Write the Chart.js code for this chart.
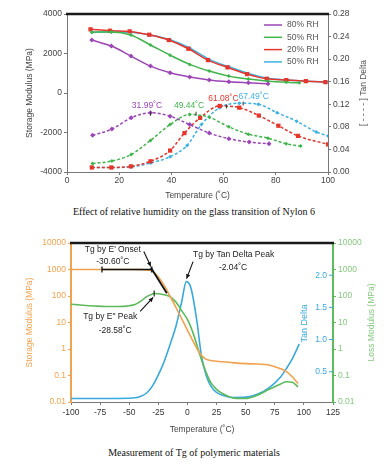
<!DOCTYPE html>
<html><head><meta charset="utf-8">
<script src="https://cdn.jsdelivr.net/npm/chart.js@4/dist/chart.umd.min.js"></script>
<style>
body{margin:0;background:#fff;width:388px;height:468px;position:relative;overflow:hidden}
#c1{position:absolute;left:0;top:0}
#c2{position:absolute;left:0;top:225px}
.cap{position:absolute;left:0;width:388px;text-align:center;font-family:"Liberation Serif",serif;font-size:10px;color:#111;line-height:12px}
</style></head><body>
<canvas id="c1" width="388" height="205"></canvas>
<div class="cap" style="top:206px">Effect of relative humidity on the glass transition of Nylon 6</div>
<canvas id="c2" width="388" height="215"></canvas>
<div class="cap" style="top:447px">Measurement of Tg of polymeric materials</div>
<script>
// ================= TOP CHART DATA =================
const topSeriesNames = ['80% RH', '50% RH', '20% RH', '50% RH'];
const topColors = ['#9b45b6', '#3fb54b', '#e5362c', '#3fb2e4'];
// storage modulus (solid lines, MPa)
const rh80ModT = [9.5, 17, 24.5, 32, 39.5, 47, 54.5, 62, 69.5, 77];
const rh80Mod  = [2680, 2377, 1870, 1362, 1024, 810, 660, 570, 515, 465];
const rh50gModT = [9.5, 17, 24.5, 32, 39.5, 47, 54.5, 62, 69.5, 77, 84, 89];
const rh50gMod  = [3080, 3090, 2935, 2430, 1917, 1448, 1110, 855, 703, 600, 540, 515];
const rh20ModT = [9, 16.5, 24, 31.5, 39, 46.5, 54, 61.5, 69, 76.5, 84, 91.5, 99];
const rh20Mod  = [3224, 3153, 3120, 2950, 2680, 2240, 1667, 1296, 956, 719, 652, 600, 550];
const rh50bModT = [9.5, 17, 24.5, 32, 39.5, 47, 54.5, 62, 69.5, 77, 84.5, 92, 99.5];
const rh50bMod  = [3080, 3090, 3080, 2930, 2700, 2280, 1700, 1330, 990, 750, 660, 600, 550];
// tan delta (dashed lines)
const rh80TanT = [9.8, 17.2, 24.6, 32, 39.5, 47, 54.5, 62, 69.8, 77.4];
const rh80Tan  = [0.065, 0.076, 0.096, 0.105, 0.099, 0.084, 0.069, 0.059, 0.053, 0.050];
const rh50gTanT = [9.8, 17.2, 24.6, 32, 39.5, 47, 54.5, 62, 69.5, 77, 84, 89.5];
const rh50gTan  = [0.015, 0.0195, 0.031, 0.056, 0.084, 0.102, 0.097, 0.080, 0.067, 0.060, 0.050, 0.046];
const rh20TanT = [9.5, 17, 24.5, 32, 39.5, 45, 51, 58.5, 66, 73.5, 81, 88.5, 100];
const rh20Tan  = [0.008, 0.008, 0.010, 0.019, 0.038, 0.069, 0.096, 0.117, 0.114, 0.100, 0.082, 0.064, 0.049];
const rh50bTanT = [9.5, 17, 24.5, 32, 39.5, 46, 51.5, 58.5, 66, 73.3, 80.5, 88, 95.5, 100];
const rh50bTan  = [0.008, 0.008, 0.009, 0.016, 0.027, 0.047, 0.084, 0.114, 0.122, 0.120, 0.105, 0.090, 0.071, 0.064];
// peak labels
const peakTemps = [31.99, 49.44, 61.08, 67.49];
const peakTanVals = [0.105, 0.105, 0.118, 0.123];
const peakLabels = ['31.99˚C', '49.44˚C', '61.08˚C', '67.49˚C'];
// tick labels
const topXTicks = [0, 20, 40, 60, 80, 100];
const topLeftTicks = [-4000, -2000, 0, 2000, 4000];
const topRightTicks = [0, 0.04, 0.08, 0.12, 0.16, 0.20, 0.24, 0.28];

// ================= BOTTOM CHART DATA =================
const storageT = [-100, -75, -50, -40, -35, -30, -25, -20, -15, -10, -5, 0, 5, 10, 15, 20, 30, 40, 50, 60, 70, 80, 85, 90, 95];
const storageMod = [1000, 1000, 1000, 990, 960, 860, 520, 250, 100, 38, 14, 5.2, 1.9, 0.75, 0.43, 0.37, 0.33, 0.3, 0.28, 0.27, 0.25, 0.18, 0.14, 0.09, 0.05];
const lossT = [-100, -90, -80, -70, -60, -50, -45, -40, -35, -30, -28.58, -25, -20, -15, -10, -5, 0, 5, 10, 15, 20, 25, 30, 40, 50, 60, 70, 80, 85, 90, 95];
const lossMod = [49, 45, 42, 40, 40, 43, 48, 64, 95, 120, 125, 122, 112, 95, 60, 28, 13, 3.8, 0.75, 0.17, 0.055, 0.03, 0.021, 0.014, 0.0135, 0.018, 0.03, 0.048, 0.058, 0.056, 0.037];
const tanT = [-100, -75, -50, -45, -40, -35, -30, -25, -20, -15, -10, -5, -1, 3, 8, 12, 16, 20, 25, 30, 40, 50, 60, 70, 80, 85, 90, 96];
const tanDelta = [0.085, 0.085, 0.088, 0.095, 0.12, 0.17, 0.28, 0.45, 0.66, 0.92, 1.2, 1.58, 1.9, 1.8, 1.3, 0.75, 0.45, 0.28, 0.18, 0.135, 0.1, 0.105, 0.15, 0.25, 0.42, 0.55, 0.7, 0.93];
const bottomXTicks = [-100, -75, -50, -25, 0, 25, 50, 75, 100, 125];
const logTicks = [0.01, 0.1, 1, 10, 100, 1000, 10000];
const tanTicks = [0.5, 1.0, 1.5, 2.0];
// annotation anchors (data space)
const onsetT = -30.60, onsetVal = 1000, onsetLineStartT = -73.4;
const tangentEndT = -17.7, tangentEndVal = 128;
const ePeakT = -28.58, ePeakVal = 125;
const tanPeakT = -2.04, tanPeakVal = 1.9;

const C_ORANGE = '#f2a24e', C_GREEN = '#5dbb5b', C_BLUE = '#38a9dc';
const F = '"Liberation Sans", Arial, sans-serif';
const tickFont = {family: F, size: 8.5};

function pts(xs, ys) { return xs.map((x, i) => ({x: x, y: ys[i]})); }

// ---------------- TOP CHART ----------------
const markerStyles = ['rectRot', 'rectRot', 'rect', 'rectRot'];
const markerSizes = [2.5, 2, 3, 2];
const modSets = [[rh80ModT, rh80Mod], [rh50gModT, rh50gMod], [rh20ModT, rh20Mod], [rh50bModT, rh50bMod]];
const tanSets = [[rh80TanT, rh80Tan], [rh50gTanT, rh50gTan], [rh20TanT, rh20Tan], [rh50bTanT, rh50bTan]];
const topDatasets = [];
modSets.forEach((s, i) => topDatasets.push({
  label: topSeriesNames[i], data: pts(s[0], s[1]), yAxisID: 'y',
  borderColor: topColors[i], backgroundColor: topColors[i], borderWidth: 1.5,
  pointStyle: markerStyles[i], pointRadius: markerSizes[i], pointBorderWidth: 0,
  cubicInterpolationMode: 'monotone'
}));
tanSets.forEach((s, i) => topDatasets.push({
  label: topSeriesNames[i] + ' tan', data: pts(s[0], s[1]), yAxisID: 'y2',
  borderColor: topColors[i], backgroundColor: topColors[i], borderWidth: 1.5, borderDash: [3, 2],
  pointStyle: markerStyles[i], pointRadius: markerSizes[i], pointBorderWidth: 0,
  cubicInterpolationMode: 'monotone'
}));

const topPlugin = {
  id: 'topDecor',
  afterDraw(chart) {
    const {ctx, chartArea: a, scales} = chart;
    ctx.save();
    ctx.strokeStyle = '#1a1a1a'; ctx.lineWidth = 2.5;
    ctx.beginPath(); ctx.moveTo(a.left - 1, a.top); ctx.lineTo(a.right + 1, a.top); ctx.stroke();
    ctx.font = '8.5px ' + F; ctx.textBaseline = 'middle'; ctx.textAlign = 'left';
    for (let i = 0; i < 4; i++) {
      const y = a.top + 11 + i * 12.3;
      ctx.strokeStyle = topColors[i]; ctx.lineWidth = 1.5; ctx.setLineDash([]);
      ctx.beginPath(); ctx.moveTo(a.right - 64, y); ctx.lineTo(a.right - 46, y); ctx.stroke();
      ctx.fillStyle = '#555'; ctx.fillText(topSeriesNames[i], a.right - 41, y);
    }
    const dx = [-3.5, -7, -3, 10.5], dy = [-7, -7, -7, -6];
    ctx.textAlign = 'center';
    for (let i = 0; i < 4; i++) {
      const px = scales.x.getPixelForValue(peakTemps[i]);
      const py = scales.y2.getPixelForValue(peakTanVals[i]);
      ctx.fillStyle = topColors[i];
      ctx.fillText(peakLabels[i], px + dx[i], py + dy[i]);
      ctx.strokeStyle = '#333'; ctx.lineWidth = 1;
      ctx.beginPath(); ctx.moveTo(px, py - 1); ctx.lineTo(px, py + 3); ctx.stroke();
    }
    ctx.translate(364, (a.top + a.bottom) / 2); ctx.rotate(-Math.PI / 2);
    ctx.fillStyle = '#555'; ctx.textAlign = 'center';
    ctx.fillText('[ - - - - ] Tan Delta', 0, 0);
    ctx.restore();
  }
};

new Chart(document.getElementById('c1'), {
  type: 'line',
  data: {datasets: topDatasets},
  options: {
    responsive: false, animation: false, events: [],
    layout: {padding: {top: 14, left: 0, right: 0, bottom: 0}},
    plugins: {legend: {display: false}, tooltip: {enabled: false}},
    scales: {
      x: {type: 'linear', min: 0, max: 100,
        afterBuildTicks: s => { s.ticks = topXTicks.map(v => ({value: v})); },
        ticks: {font: tickFont, color: '#444', padding: 1, maxRotation: 0, callback: v => String(v)},
        grid: {drawOnChartArea: false, tickLength: 3, color: '#777'},
        border: {color: '#777'},
        title: {display: true, text: 'Temperature (˚C)', font: {family: F, size: 8.5}, color: '#444', padding: {top: 0, bottom: 4}},
        afterFit: s => { s.height = 33; }
      },
      y: {type: 'linear', position: 'left', min: -4000, max: 4000,
        afterBuildTicks: s => { s.ticks = topLeftTicks.map(v => ({value: v})); },
        ticks: {font: tickFont, color: '#444', padding: 2, callback: v => String(v)},
        grid: {drawOnChartArea: false, tickLength: 3, color: '#777'},
        border: {color: '#777'},
        title: {display: true, text: 'Storage Modulus (MPa)', font: {family: F, size: 8.5}, color: '#444', padding: {top: 25, bottom: 0}},
        afterFit: s => { s.width = 67; }
      },
      y2: {type: 'linear', position: 'right', min: 0, max: 0.28,
        afterBuildTicks: s => { s.ticks = topRightTicks.map(v => ({value: v})); },
        ticks: {font: tickFont, color: '#444', padding: 2, callback: v => v.toFixed(2)},
        grid: {drawOnChartArea: false, tickLength: 3, color: '#777'},
        border: {color: '#777'},
        afterFit: s => { s.width = 60; }
      }
    }
  },
  plugins: [topPlugin]
});

// ---------------- BOTTOM CHART ----------------
function arrow(ctx, x1, y1, x2, y2) {
  ctx.beginPath(); ctx.moveTo(x1, y1); ctx.lineTo(x2, y2); ctx.stroke();
  const ang = Math.atan2(y2 - y1, x2 - x1), L = 5, W = 0.45;
  ctx.beginPath(); ctx.moveTo(x2, y2);
  ctx.lineTo(x2 - L * Math.cos(ang - W), y2 - L * Math.sin(ang - W));
  ctx.lineTo(x2 - L * Math.cos(ang + W), y2 - L * Math.sin(ang + W));
  ctx.closePath(); ctx.fill();
}

const bottomPlugin = {
  id: 'bottomDecor',
  afterDraw(chart) {
    const {ctx, chartArea: a, scales} = chart;
    const X = v => scales.x.getPixelForValue(v);
    ctx.save();
    ctx.strokeStyle = '#1a1a1a'; ctx.lineWidth = 2.5;
    ctx.beginPath(); ctx.moveTo(a.left - 1, a.top); ctx.lineTo(a.right + 1, a.top); ctx.stroke();
    ctx.strokeStyle = C_BLUE; ctx.lineWidth = 1;
    tanTicks.forEach(v => { const y = scales.yTan.getPixelForValue(v);
      ctx.beginPath(); ctx.moveTo(a.right - 4, y); ctx.lineTo(a.right, y); ctx.stroke(); });
    ctx.strokeStyle = '#111'; ctx.fillStyle = '#111'; ctx.lineWidth = 1.3;
    const ox = X(onsetT), oy = scales.y.getPixelForValue(onsetVal);
    const sx = X(onsetLineStartT);
    ctx.beginPath(); ctx.moveTo(sx, oy); ctx.lineTo(ox, oy); ctx.stroke();
    ctx.beginPath(); ctx.moveTo(sx, oy - 3); ctx.lineTo(sx, oy + 3); ctx.moveTo(ox, oy - 3); ctx.lineTo(ox, oy + 3); ctx.stroke();
    ctx.lineWidth = 1.8;
    ctx.beginPath(); ctx.moveTo(ox - 1, oy - 2); ctx.lineTo(X(tangentEndT), scales.y.getPixelForValue(tangentEndVal)); ctx.stroke();
    ctx.lineWidth = 1.1;
    arrow(ctx, ox - 8, oy - 18, ox - 1, oy - 3);
    const ex = X(ePeakT), ey = scales.yLoss.getPixelForValue(ePeakVal);
    ctx.beginPath(); ctx.moveTo(ex, ey - 3); ctx.lineTo(ex, ey + 3); ctx.stroke();
    arrow(ctx, ex - 14, ey + 18, ex - 1, ey + 4);
    const tx = X(tanPeakT), ty = scales.yTan.getPixelForValue(tanPeakVal);
    arrow(ctx, tx + 8, ty - 20, tx + 1.5, ty - 3);
    ctx.font = '8.5px ' + F; ctx.textAlign = 'center'; ctx.textBaseline = 'middle'; ctx.fillStyle = '#222';
    ctx.fillText("Tg by E' Onset", ox - 39, oy - 19.5);
    ctx.fillText('-30.60˚C', ox - 39, oy - 8);
    ctx.fillText('Tg by E" Peak', ex - 44, ey + 23);
    ctx.fillText('-28.58˚C', ex - 39, ey + 37.5);
    ctx.fillText('Tg by Tan Delta Peak', tx + 48.5, ty - 27);
    ctx.fillText('-2.04˚C', tx + 48, ty - 14);
    ctx.save();
    ctx.translate(305, (a.top + a.bottom) / 2 + 1); ctx.rotate(-Math.PI / 2);
    ctx.fillStyle = C_BLUE; ctx.font = '9px ' + F; ctx.fillText('Tan Delta', 0, 0);
    ctx.restore();
    ctx.save();
    ctx.translate(372, (a.top + a.bottom) / 2); ctx.rotate(-Math.PI / 2);
    ctx.fillStyle = '#86c97f'; ctx.font = '8.5px ' + F; ctx.fillText('Loss Modulus (MPa)', 0, 0);
    ctx.restore();
    ctx.restore();
  }
};

new Chart(document.getElementById('c2'), {
  type: 'line',
  data: {datasets: [
    {label: 'Storage Modulus', data: pts(storageT, storageMod), yAxisID: 'y', borderColor: C_ORANGE, borderWidth: 1.6, pointRadius: 0, cubicInterpolationMode: 'monotone'},
    {label: 'Loss Modulus', data: pts(lossT, lossMod), yAxisID: 'yLoss', borderColor: C_GREEN, borderWidth: 1.6, pointRadius: 0, cubicInterpolationMode: 'monotone'},
    {label: 'Tan Delta', data: pts(tanT, tanDelta), yAxisID: 'yTan', borderColor: C_BLUE, borderWidth: 1.6, pointRadius: 0, cubicInterpolationMode: 'monotone'}
  ]},
  options: {
    responsive: false, animation: false, events: [],
    layout: {padding: {top: 18, left: 0, right: 0, bottom: 0}},
    plugins: {legend: {display: false}, tooltip: {enabled: false}},
    scales: {
      x: {type: 'linear', min: -100, max: 125,
        afterBuildTicks: s => { s.ticks = bottomXTicks.map(v => ({value: v})); },
        ticks: {font: tickFont, color: '#333', padding: 3, maxRotation: 0, callback: v => String(v)},
        grid: {drawOnChartArea: false, tickLength: 3, color: '#777'},
        border: {color: '#777'},
        title: {display: true, text: 'Temperature (˚C)', font: {family: F, size: 8.5}, color: '#444', padding: {top: 0, bottom: 5}},
        afterFit: s => { s.height = 38; }
      },
      y: {type: 'logarithmic', position: 'left', min: 0.01, max: 10000,
        afterBuildTicks: s => { s.ticks = logTicks.map(v => ({value: v})); },
        ticks: {font: tickFont, color: C_ORANGE, padding: 2, callback: v => String(v)},
        grid: {drawOnChartArea: false, tickLength: 3, color: C_ORANGE},
        border: {color: C_ORANGE, width: 2},
        title: {display: true, text: 'Storage Modulus (MPa)', font: {family: F, size: 8.5}, color: C_ORANGE, padding: {top: 25, bottom: 0}},
        afterFit: s => { s.width = 71; }
      },
      yTan: {type: 'linear', position: 'right', min: 0.03, max: 2.5, weight: 0,
        afterBuildTicks: s => { s.ticks = tanTicks.map(v => ({value: v})); },
        ticks: {font: tickFont, color: C_BLUE, mirror: true, padding: -6, callback: v => v.toFixed(1)},
        grid: {display: false},
        border: {display: false},
        afterFit: s => { s.width = 0; }
      },
      yLoss: {type: 'logarithmic', position: 'right', min: 0.01, max: 10000, weight: 1,
        afterBuildTicks: s => { s.ticks = logTicks.map(v => ({value: v})); },
        ticks: {font: tickFont, color: '#86c97f', padding: 2, callback: v => String(v)},
        grid: {drawOnChartArea: false, tickLength: 3, color: C_GREEN},
        border: {color: C_GREEN, width: 2},
        afterFit: s => { s.width = 55; }
      }
    }
  },
  plugins: [bottomPlugin]
});
</script>
</body></html>
